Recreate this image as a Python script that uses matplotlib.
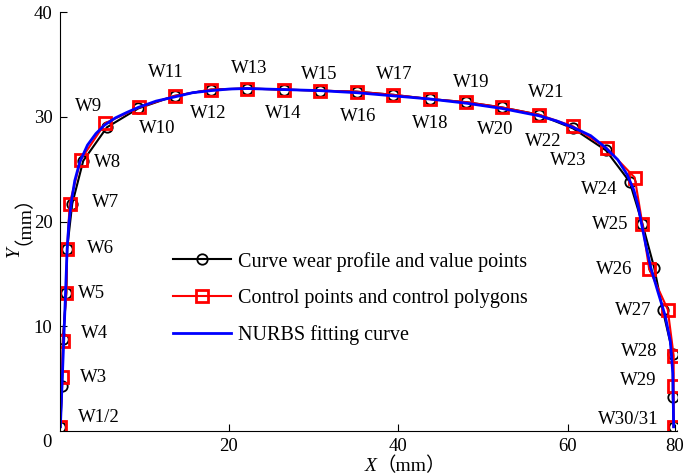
import matplotlib
matplotlib.use('Agg')
import matplotlib.pyplot as plt

plt.rcParams['font.family'] = ['Liberation Serif', 'Noto Sans CJK SC']

# value points on the worn profile (black circles)
wear_x = [0.1, 0.3, 0.4, 0.8, 0.9, 1.5, 2.8, 5.6, 9.3, 13.6, 17.9, 22.1, 26.5, 30.7, 35.1,
          39.4, 43.7, 48.0, 52.2, 56.6, 60.6, 64.5, 67.3, 68.8, 70.2, 71.2, 72.4, 72.4, 72.5]
wear_y = [0.4, 4.3, 8.8, 13.2, 17.4, 21.7, 25.8, 29.0, 30.8, 32.0, 32.6, 32.7, 32.6, 32.5, 32.4,
          32.1, 31.7, 31.4, 30.9, 30.2, 28.9, 26.8, 23.8, 19.8, 15.6, 11.6, 7.4, 3.2, 0.4]

# control points / control polygon (red squares)
ctrl_x = [0.1, 0.3, 0.4, 0.8, 0.9, 1.2, 2.5, 5.4, 9.4, 13.6, 17.9, 22.1, 26.5, 30.7, 35.1,
          39.4, 43.7, 48.0, 52.2, 56.6, 60.6, 64.6, 67.9, 68.8, 69.6, 71.8, 72.5, 72.5, 72.5]
ctrl_y = [0.4, 5.2, 8.6, 13.2, 17.4, 21.7, 25.9, 29.4, 30.9, 32.0, 32.6, 32.7, 32.6, 32.5, 32.4,
          32.1, 31.7, 31.4, 30.9, 30.2, 29.1, 27.0, 24.2, 19.8, 15.5, 11.6, 7.2, 4.3, 0.4]

# NURBS fitting curve
nurbs_x = [0.1, 0.3, 0.5, 0.7, 0.9, 1.1, 1.4, 1.8, 2.4, 3.3, 4.3, 5.3, 6.6, 7.9, 9.3, 11.4,
           13.6, 15.7, 17.9, 20.0, 22.1, 26.5, 30.7, 35.1, 39.4, 43.7, 48.0, 52.2, 56.6,
           58.7, 60.6, 62.7, 64.4, 65.9, 67.0, 67.8, 68.3, 68.7, 69.2, 69.8, 70.6, 71.5,
           72.1, 72.4, 72.5]
nurbs_y = [0.4, 4.5, 8.7, 13.0, 17.4, 19.8, 21.9, 23.9, 25.7, 27.3, 28.4, 29.2, 29.9, 30.4,
           30.9, 31.5, 31.9, 32.3, 32.5, 32.65, 32.7, 32.6, 32.5, 32.3, 32.0, 31.7, 31.3,
           30.8, 30.1, 29.6, 29.0, 28.2, 27.1, 25.9, 24.5, 23.0, 21.5, 19.8, 17.8, 15.6,
           13.4, 11.0, 8.6, 5.5, 0.4]

point_names = ['W1/2', 'W3', 'W4', 'W5', 'W6', 'W7', 'W8', 'W9', 'W10', 'W11', 'W12', 'W13',
               'W14', 'W15', 'W16', 'W17', 'W18', 'W19', 'W20', 'W21', 'W22', 'W23', 'W24',
               'W25', 'W26', 'W27', 'W28', 'W29', 'W30/31']
# where each name is written (data units)
name_pos = [(4.7, 1.3), (4.0, 5.1), (4.1, 9.3), (3.8, 13.1), (4.8, 17.4), (5.4, 21.8),
            (5.7, 25.6), (3.4, 31.0), (11.5, 28.9), (12.6, 34.2), (17.5, 30.3), (22.4, 34.6),
            (26.4, 30.3), (30.6, 34.0), (35.3, 30.0), (39.5, 34.0), (43.8, 29.4), (48.6, 33.3),
            (51.4, 28.8), (57.4, 32.3), (57.1, 27.6), (60.0, 25.8), (63.7, 23.1), (65.0, 19.7),
            (65.5, 15.4), (67.7, 11.5), (68.4, 7.6), (68.3, 4.8), (67.1, 1.1)]

fs = 13.5

fig = plt.figure(figsize=(6.85, 4.75), dpi=100)
ax = fig.add_axes([0.0869, 0.0926, 0.9015, 0.882])

ax.plot(wear_x, wear_y, color='black', lw=1.5, marker='o', ms=7.5, mfc='none', mew=1.3,
        label='Curve wear profile and value points')
ax.plot(ctrl_x, ctrl_y, color='red', lw=1.5, marker='s', ms=8, mfc='none', mew=2,
        label='Control points and control polygons')
ax.plot(nurbs_x, nurbs_y, color='blue', lw=2, label='NURBS fitting curve')

for name, (tx, ty) in zip(point_names, name_pos):
    ax.text(tx, ty, name, fontsize=fs, ha='center', va='center')

ax.set_xlim(0, 72.9)
ax.set_ylim(0, 40)
ax.set_xticks([20, 40, 60, 72.6])
ax.set_xticklabels(['20', '40', '60', '80'])
ax.set_yticks([10, 20, 30, 40])
ax.tick_params(direction='in', length=5, labelsize=fs, pad=5)
ax.text(-1.5, -0.028, '0', fontsize=fs, ha='center', va='center',
        transform=ax.get_xaxis_transform())

for s in ['top', 'right']:
    ax.spines[s].set_visible(False)

# axis titles: italic letter followed by full-width brackets, on a common baseline
lab = dict(fontsize=14, transform=ax.transAxes, rotation_mode='anchor', va='baseline')
ax.text(0.5126, -0.0955, 'X', style='italic', ha='right', **lab)
ax.text(0.5140, -0.0955, '（mm）', ha='left', **lab)
ax.text(-0.0664, 0.4415, 'Y', style='italic', rotation=90, ha='right', **lab)
ax.text(-0.0664, 0.4440, '（mm）', rotation=90, ha='left', **lab)

ax.legend(loc='center', bbox_to_anchor=(0.471, 0.317), frameon=False, fontsize=14.5,
          handlelength=2.85, handletextpad=0.35, labelspacing=0.85)

plt.savefig('out.png', dpi=100)
